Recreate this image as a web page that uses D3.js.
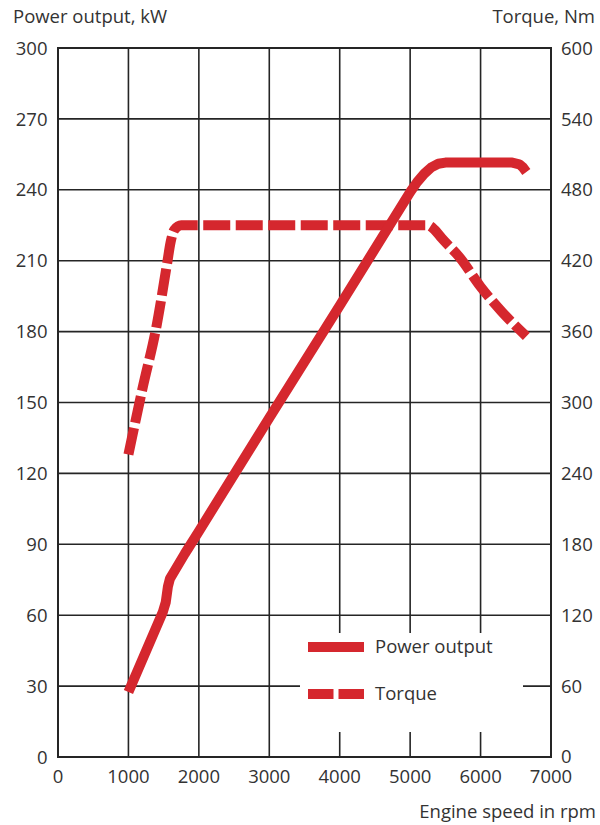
<!DOCTYPE html>
<html>
<head>
<meta charset="utf-8">
<script src="https://cdn.jsdelivr.net/npm/d3@7"></script>
<style>
  html, body { margin: 0; padding: 0; background: #fff; }
  svg text { font-family: "Open Sans", "Noto Sans", sans-serif; fill: #333; }
</style>
</head>
<body>
<svg id="chart" width="600" height="825"></svg>
<script>
// ---- data ----
const rpmTicks = [0, 1000, 2000, 3000, 4000, 5000, 6000, 7000];
const powerTicks = [0, 30, 60, 90, 120, 150, 180, 210, 240, 270, 300];
const torqueTicks = [0, 60, 120, 180, 240, 300, 360, 420, 480, 540, 600];

const powerRpm = [1000, 1490, 1530, 1560, 1590, 1650, 1800, 2000, 3000, 4000, 5000, 5100, 5200, 5300, 5400, 5500, 6450, 6550, 6600, 6650];
const powerKw  = [27.5, 61.5, 65.5, 72,   75.5, 78.5, 86,   95.5, 143.5, 191, 239,  243.3, 246.8, 249.5, 251, 251.5, 251.5, 250.8, 249.5, 247.5];

const torqueRpm = [1000, 1200, 1400, 1550, 1600, 1650, 1750, 2000, 3000, 4000, 5000, 5250, 5350, 5450, 5700, 6000, 6300, 6650];
const torqueNm  = [256,  312,  365,  418,  436,  446,  450,  450,  450,  450,  450,  450,  446,  439,  423,  398,  377,  356];

const legendLabels = ["Power output", "Torque"];

// ---- layout ----
const svg = d3.select("#chart");
const L = 58, R = 551, T = 48, B = 757;
const red = "#d5272e";
const gridCol = "#252525";

const x = d3.scaleLinear().domain([0, 7000]).range([L, R]);
const yP = d3.scaleLinear().domain([0, 300]).range([B, T]);
const yT = d3.scaleLinear().domain([0, 600]).range([B, T]);

// grid
const g = svg.append("g");
g.selectAll("line.v").data(rpmTicks).join("line")
  .attr("x1", d => x(d)).attr("x2", d => x(d))
  .attr("y1", T).attr("y2", B)
  .attr("stroke", gridCol).attr("stroke-width", 1.6);
g.selectAll("line.h").data(powerTicks).join("line")
  .attr("x1", L).attr("x2", R)
  .attr("y1", d => yP(d)).attr("y2", d => yP(d))
  .attr("stroke", gridCol).attr("stroke-width", 1.6);
g.append("rect").attr("x", L).attr("y", T).attr("width", R - L).attr("height", B - T)
  .attr("fill", "none").attr("stroke", gridCol).attr("stroke-width", 2);

// legend backdrop
svg.append("rect").attr("x", 300).attr("y", 633).attr("width", 223).attr("height", 99).attr("fill", "#fff");

// axes labels
const fs = 18.5;
svg.selectAll("text.lt").data(powerTicks).join("text")
  .attr("x", 47.5).attr("y", d => yP(d)).attr("dy", "0.36em")
  .attr("text-anchor", "end").attr("font-size", fs).text(d => d);
svg.selectAll("text.rt").data(torqueTicks).join("text")
  .attr("x", 561).attr("y", d => yT(d) - (d === 0 ? 1 : 0)).attr("dy", "0.36em")
  .attr("text-anchor", "start").attr("font-size", fs).text(d => d);
svg.selectAll("text.bt").data(rpmTicks).join("text")
  .attr("x", d => x(d)).attr("y", 782.5)
  .attr("text-anchor", "middle").attr("font-size", fs).text(d => d);

svg.append("text").attr("x", 13).attr("y", 23).attr("font-size", fs).text("Power output, kW");
svg.append("text").attr("x", 595).attr("y", 23).attr("text-anchor", "end").attr("font-size", fs).text("Torque, Nm");
svg.append("text").attr("x", 596).attr("y", 818).attr("text-anchor", "end").attr("font-size", fs).text("Engine speed in rpm");

// curves
const powerData = powerRpm.map((r, i) => [r, powerKw[i]]);
const torqueData = torqueRpm.map((r, i) => [r, torqueNm[i]]);

const linePow = d3.line().x(d => x(d[0])).y(d => yP(d[1])).curve(d3.curveLinear);
const lineTor = d3.line().x(d => x(d[0])).y(d => yT(d[1])).curve(d3.curveMonotoneX);

svg.append("path").attr("d", lineTor(torqueData))
  .attr("fill", "none").attr("stroke", red).attr("stroke-width", 10)
  .attr("stroke-dasharray", "27,5.5").attr("stroke-linejoin", "round");
svg.append("path").attr("d", linePow(powerData))
  .attr("fill", "none").attr("stroke", red).attr("stroke-width", 10)
  .attr("stroke-linejoin", "round");

// legend
const lg = svg.append("g");
lg.append("line").attr("x1", 308).attr("x2", 364).attr("y1", 647).attr("y2", 647)
  .attr("stroke", red).attr("stroke-width", 10);
lg.append("line").attr("x1", 308).attr("x2", 364).attr("y1", 694).attr("y2", 694)
  .attr("stroke", red).attr("stroke-width", 10).attr("stroke-dasharray", "25.5,5");
lg.selectAll("text").data(legendLabels).join("text")
  .attr("x", 375).attr("y", (d, i) => 653 + i * 47)
  .attr("font-size", fs).text(d => d);
</script>
</body>
</html>
